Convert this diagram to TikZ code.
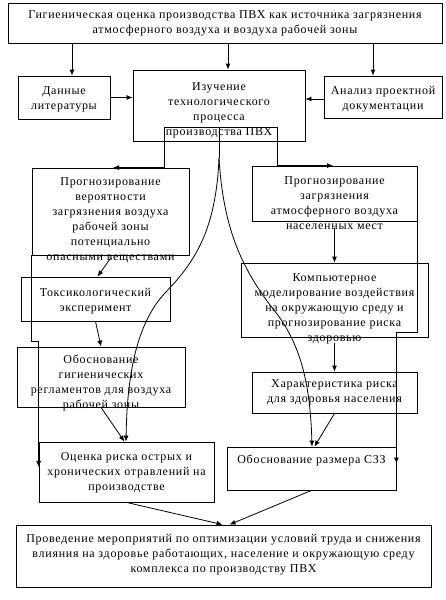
\documentclass[tikz,border=0pt]{standalone}
\usepackage{fontspec}
\setmainfont{Liberation Serif}[LetterSpace=6.0]
\usepackage{tikz}
\usetikzlibrary{arrows.meta}
\tikzstyle{block} = [rectangle, draw, fill=white, inner sep=0pt, font=\fontsize{12}{15}\selectfont]
\tikzstyle{line} = [draw, -{Latex[length=6pt, width=5pt]}]
\newcommand{\boxtext}[4][10]{\parbox[c][#3pt][t]{#2pt}{\centering\vspace*{#1pt}#4}}

\begin{document}
\begin{tikzpicture}[x=1pt, y=-1pt, line width=0.8pt]
    \useasboundingbox (0,0) rectangle (445,600);

    \node (goal) [block] at (225,23) {\boxtext[7.5]{434}{40}{Гигиеническая оценка производства ПВХ как источника загрязнения\\атмосферного воздуха и воздуха рабочей зоны}};
    \node (lit) [block] at (64,97.5) {\boxtext[10.5]{92}{43}{Данные\\литературы}};
    \node (study) [block] at (219,105.5) {\boxtext[13]{172}{71}{Изучение\\технологического\\процесса\\производства ПВХ}};
    \node (proj) [block] at (383,97) {\boxtext[10.5]{118}{42}{Анализ проектной\\документации}};
    \node (progL) [block] at (110.5,211.5) {\boxtext[9.5]{157}{87}{Прогнозирование\\вероятности\\загрязнения воздуха\\рабочей зоны\\потенциально\\опасными веществами}};
    \node (progR) [block] at (334.5,193.5) {\boxtext[11]{165}{55}{Прогнозирование\\загрязнения\\атмосферного воздуха\\населенных мест}};
    \node (tox) [block] at (95.5,299) {\boxtext[11.5]{149}{44}{Токсикологический\\эксперимент}};
    \node (comp) [block] at (334.5,300) {\boxtext[10.5]{187}{74}{Компьютерное\\моделирование воздействия\\на окружающую среду и\\прогнозирование риска\\здоровью}};
    \node (regl) [block] at (101,377) {\boxtext[7.5]{168}{60}{Обоснование\\гигиенических\\регламентов для воздуха\\рабочей зоны}};
    \node (riskchar) [block] at (334.5,392.5) {\boxtext[7.5]{165}{41}{Характеристика риска\\для здоровья населения}};
    \node (assess) [block] at (126.5,472) {\boxtext[10.5]{175}{60}{Оценка риска острых и\\хронических отравлений на\\производстве}};
    \node (szz) [block] at (311.5,468.5) {\boxtext[7.5]{169}{43}{Обоснование размера СЗЗ}};
    \node (measures) [block] at (223.5,556) {\boxtext[9.5]{415}{62}{Проведение мероприятий по оптимизации условий труда и снижения\\влияния на здоровье работающих, население и окружающую среду\\комплекса по производству ПВХ}};

    \coordinate (fork) at (219,127);
    \coordinate (forkL) at (164,127);
    \coordinate (forkR) at (277,127);
    \coordinate (split) at (219,158);

    \path [line] ([xshift=8]lit.north |- goal.south) -- ([xshift=8]lit.north);
    \path [line] ([xshift=9]study.north |- goal.south) -- ([xshift=9]study.north);
    \path [line] ([xshift=-10]proj.north |- goal.south) -- ([xshift=-10]proj.north);
    \path [line] (lit.east) -- (lit.east -| study.west);
    \path [line] ([yshift=-2]proj.west) -- ([yshift=-2]proj.west -| study.east);

    \path [draw] (forkL) -- (forkR);
    \path [line] (forkL) |- ([xshift=2.5]progL.north);
    \path [line] (forkR) |- ([xshift=-1.5]progR.north);
    \path [draw] (fork) -- (split);
    \path [line] (split) .. controls (216,230) and (195,262) .. (165,293) .. controls (135,325) and (127,380) .. ([xshift=-0.5]assess.north);
    \path [line] (split) .. controls (223,225) and (240,265) .. (270,305) .. controls (295,335) and (310,370) .. ([xshift=0.5]szz.north);

    \path [line] ([yshift=-3]progL.south) -- ([xshift=2]tox.north);
    \path [line] (tox.south) -- (regl.north);
    \path [line] (regl.south) -- ([xshift=-2]assess.north);
    \path [line] (progL.south west) -- ++(0,86) -| ([yshift=5]assess.west);

    \path [line] ([yshift=-7]progR.south) -- (comp.north);
    \path [line] ([yshift=-6]comp.south) -- (riskchar.north);
    \path [line] (riskchar.south) -- ([xshift=3]szz.north);
    \path [line] (progR.south east) -- ++(0,111) -| ([yshift=5]szz.east);

    \path [line] (assess.south) -- ([xshift=-1]measures.north);
    \path [line] (szz.south) -- ([xshift=6]measures.north);
\end{tikzpicture}
\end{document}
